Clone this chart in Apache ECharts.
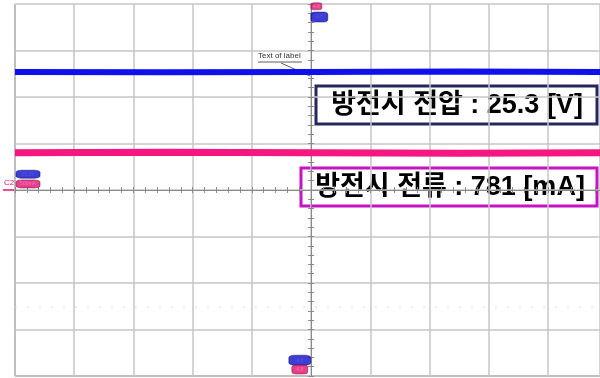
<!DOCTYPE html>
<html>
<head>
<meta charset="utf-8">
<script src="https://cdn.jsdelivr.net/npm/echarts@6/dist/echarts.min.js"></script>
<style>
  html, body { margin: 0; padding: 0; background: #fff; }
  #chart { width: 600px; height: 378px; }
</style>
</head>
<body>
<div id="chart"></div>
<script>
// scope screen: 10 horizontal divisions (right edge cut off), 8 vertical divisions, centred on zero
const timeDiv = [-5, -2.5, 0, 2.5, 4.88]
const voltageTrace = [2.54, 2.53, 2.54, 2.55, 2.54]   // CH1, blue
const currentTrace = [0.80, 0.81, 0.80, 0.79, 0.80]   // CH2, pink
const faintTrace = [-2.52, -2.52, -2.52, -2.52, -2.52]

// on-screen markers (trigger / level / position)
const blueMarkers = [[0.14, 3.72], [-4.78, 0.34], [-0.19, -3.66]]
const pinkMarkers = [[0.09, 3.95], [-4.78, 0.13], [-0.19, -3.86]]
const blueMarkerText = ['4.8', '25.0V', '4.8']
const pinkMarkerText = ['4.8', '500mA', '4.8']

const voltageLabel = '방전시 전압 : 25.3 [V]'
const currentLabel = '방전시 전류 : 781 [mA]'

const pairs = ys => timeDiv.map((x, i) => [x, ys[i]])

const chart = echarts.init(document.getElementById('chart'))

const centreAxis = {
  type: 'value',
  axisLabel: { show: false },
  axisLine: { onZero: true, onZeroAxisIndex: 0, lineStyle: { color: '#8a8a8a', width: 1 } },
  axisTick: { show: true, length: 3, lineStyle: { color: '#8a8a8a' } },
  minorTick: { show: true, splitNumber: 5, length: 3, lineStyle: { color: '#8a8a8a' } },
}
const gridLine = { show: true, lineStyle: { color: '#c6c6c6', width: 1.5 } }
const boxFont = 'bold 27px "Liberation Sans", "Noto Sans CJK KR", sans-serif'

chart.setOption({
  animation: false,
  grid: { left: 15, top: 4, right: 0, height: 372 },
  xAxis: [
    { ...centreAxis, min: -5, max: 4.88, interval: 1, position: 'bottom', splitLine: gridLine },
    { ...centreAxis, min: -5, max: 4.88, interval: 1, position: 'top', splitLine: { show: false } },
  ],
  yAxis: [
    { ...centreAxis, min: -4, max: 4, interval: 1, position: 'left', splitLine: gridLine },
    { ...centreAxis, min: -4, max: 4, interval: 1, position: 'right', splitLine: { show: false } },
  ],
  series: [
    { type: 'line', data: pairs(faintTrace), symbol: 'none', silent: true,
      lineStyle: { color: '#d8d8d8', width: 1, type: [2, 10] } },
    { type: 'line', data: pairs(voltageTrace), symbol: 'none',
      lineStyle: { color: '#1010ee', width: 6 } },
    { type: 'line', data: pairs(currentTrace), symbol: 'none',
      lineStyle: { color: '#f5167f', width: 7 } },
    { type: 'scatter', data: blueMarkers, symbol: 'roundRect',
      symbolSize: (v, p) => [[17, 10], [24, 8], [22, 10]][p.dataIndex],
      itemStyle: { color: '#0c0cc8', borderColor: '#000060', borderWidth: 0.5 },
      label: { show: true, position: 'inside', fontSize: 5, color: '#5a5ae8',
        formatter: p => blueMarkerText[p.dataIndex] } },
    { type: 'scatter', data: pinkMarkers, symbol: 'roundRect',
      symbolSize: (v, p) => [[11, 7], [24, 8], [16, 9]][p.dataIndex],
      itemStyle: { color: '#e0106e', borderColor: '#600030', borderWidth: 0.5 },
      label: { show: true, position: 'inside', fontSize: 5, color: '#ff80b8',
        formatter: p => pinkMarkerText[p.dataIndex] } },
  ],
  graphic: [
    // left and bottom frame edges are a little darker
    { type: 'line', shape: { x1: 15, y1: 4, x2: 15, y2: 376 }, style: { stroke: '#a8a8a8', lineWidth: 2 } },
    { type: 'line', shape: { x1: 15, y1: 376, x2: 600, y2: 376 }, style: { stroke: '#a8a8a8', lineWidth: 2 } },
    // "Text of label" callout
    { type: 'text', left: 258, top: 52, style: { text: 'Text of label', font: '8px "Liberation Sans"', fill: '#333' } },
    { type: 'line', shape: { x1: 258, y1: 62, x2: 302, y2: 62 }, style: { stroke: '#333', lineWidth: 0.8 } },
    { type: 'line', shape: { x1: 281, y1: 63, x2: 310, y2: 76 }, style: { stroke: '#333', lineWidth: 0.8 } },
    // CH2 ground marker
    { type: 'text', left: 4, top: 179, style: { text: 'C2', font: '8px "Liberation Sans"', fill: '#e0106e' } },
    { type: 'line', shape: { x1: 3, y1: 190, x2: 14, y2: 190 }, style: { stroke: '#e0106e', lineWidth: 1.5 } },
    // measurement boxes
    { type: 'rect', shape: { x: 316, y: 86, width: 281, height: 38 },
      style: { fill: '#fff', stroke: '#262660', lineWidth: 3 } },
    { type: 'text', x: 457, y: 106,
      style: { text: voltageLabel, font: boxFont, fill: '#000', align: 'center', verticalAlign: 'middle' } },
    { type: 'rect', shape: { x: 301, y: 168, width: 296, height: 38 },
      style: { fill: '#fff', stroke: '#c414c4', lineWidth: 3 } },
    { type: 'text', x: 450, y: 188,
      style: { text: currentLabel, font: boxFont, fill: '#000', align: 'center', verticalAlign: 'middle' } },
  ],
})
</script>
</body>
</html>
